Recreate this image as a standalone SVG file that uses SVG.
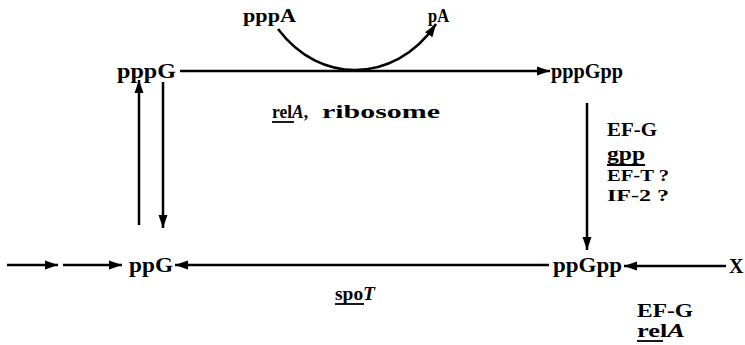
<svg xmlns="http://www.w3.org/2000/svg" width="745" height="345" viewBox="0 0 745 345">
<style>
text{font-family:"Liberation Serif","DejaVu Serif",serif;font-weight:bold;fill:#000}
.m{font-size:20px}
.s{font-size:18px}
.t{font-size:18px}
.q{font-size:17px}
.c{stroke:#000;stroke-width:2.5;fill:none}
.u{stroke:#000;stroke-width:1.8}
</style>
<defs>
<marker id="ah" markerUnits="userSpaceOnUse" markerWidth="14" markerHeight="10" refX="13" refY="5" orient="auto">
<path d="M0,0.5 L13,5 L0,9.5 z" fill="#000"/>
</marker>
</defs>
<rect width="745" height="345" fill="#fff"/>
<g id="connectors">
<line class="c" x1="180" y1="71" x2="550" y2="71" marker-end="url(#ah)"/>
<path class="c" d="M278,29 C300,58 328,70 355,70 C385,70 415,55 436,24" marker-end="url(#ah)"/>
<line class="c" x1="587" y1="103" x2="587" y2="250" marker-end="url(#ah)"/>
<line class="c" x1="139" y1="225" x2="139" y2="80" marker-end="url(#ah)"/>
<line class="c" x1="163" y1="82" x2="163" y2="228" marker-end="url(#ah)"/>
<line class="c" x1="7" y1="265" x2="58" y2="265" marker-end="url(#ah)"/>
<line class="c" x1="63" y1="265" x2="122" y2="265" marker-end="url(#ah)"/>
<line class="c" x1="549" y1="265" x2="175" y2="265" marker-end="url(#ah)"/>
<line class="c" x1="726" y1="266" x2="624" y2="266" marker-end="url(#ah)"/>
</g>
<g id="pppA"><text class="s" x="243" y="22" textLength="53" lengthAdjust="spacingAndGlyphs">pppA</text></g>
<g id="pA"><text class="s" x="428" y="22" textLength="21" lengthAdjust="spacingAndGlyphs">pA</text></g>
<g id="pppG"><text class="m" x="117" y="78" textLength="59" lengthAdjust="spacingAndGlyphs">pppG</text></g>
<g id="pppGpp"><text class="m" x="551" y="78" textLength="72" lengthAdjust="spacingAndGlyphs">pppGpp</text></g>
<g id="ppG"><text class="m" x="129" y="272" textLength="44" lengthAdjust="spacingAndGlyphs">ppG</text></g>
<g id="ppGpp"><text class="m" x="553" y="272" textLength="69" lengthAdjust="spacingAndGlyphs">ppGpp</text></g>
<g id="X"><text class="m" x="729" y="273">X</text></g>
<g id="label-relA-ribosome">
<text class="s" x="272" y="118" textLength="36" lengthAdjust="spacingAndGlyphs">rel<tspan font-style="italic">A</tspan>,</text>
<line class="u" x1="272" y1="122" x2="294" y2="122"/>
<text class="s" x="322" y="118" textLength="118" lengthAdjust="spacingAndGlyphs">ribosome</text>
</g>
<g id="label-right">
<text class="t" x="607" y="136" textLength="50" lengthAdjust="spacingAndGlyphs">EF-G</text>
<text class="t" x="607" y="160" textLength="38" lengthAdjust="spacingAndGlyphs">gpp</text>
<line class="u" x1="607" y1="165" x2="645" y2="165"/>
<text class="q" x="607" y="181" textLength="62" lengthAdjust="spacingAndGlyphs">EF-T ?</text>
<text class="q" x="607" y="201" textLength="62" lengthAdjust="spacingAndGlyphs">IF-2 ?</text>
</g>
<g id="label-spoT">
<text class="t" x="335" y="300" textLength="40" lengthAdjust="spacingAndGlyphs">spo<tspan font-style="italic">T</tspan></text>
<line class="u" x1="335" y1="304" x2="364" y2="304"/>
</g>
<g id="label-bottom-right">
<text class="t" x="637" y="317" textLength="56" lengthAdjust="spacingAndGlyphs">EF-G</text>
<text class="t" x="637" y="337" textLength="48" lengthAdjust="spacingAndGlyphs">rel<tspan font-style="italic">A</tspan></text>
<line class="u" x1="637" y1="341" x2="663" y2="341"/>
</g>
</svg>
